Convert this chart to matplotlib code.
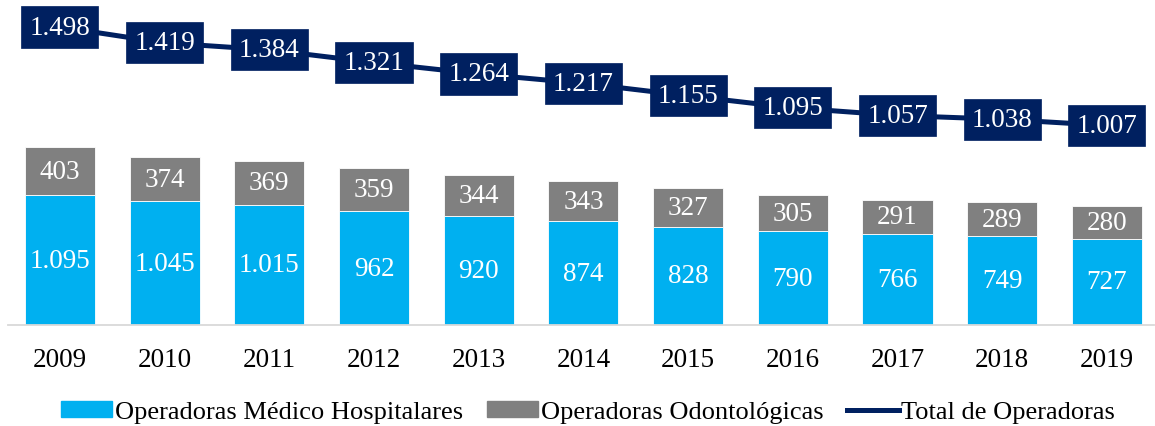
import matplotlib
matplotlib.use("Agg")
import matplotlib.pyplot as plt
from matplotlib.patches import Patch
from matplotlib.lines import Line2D
import numpy as np

years = ["2009", "2010", "2011", "2012", "2013", "2014", "2015", "2016", "2017", "2018", "2019"]
medico = [1095, 1045, 1015, 962, 920, 874, 828, 790, 766, 749, 727]
odonto = [403, 374, 369, 359, 344, 343, 327, 305, 291, 289, 280]
total = [1498, 1419, 1384, 1321, 1264, 1217, 1155, 1095, 1057, 1038, 1007]

def fmt(v):
    return f"{v:,}".replace(",", ".")

plt.rcParams['font.family'] = ['Liberation Serif', 'DejaVu Serif']
FS = 19.5

W, H = 1155, 427
fig = plt.figure(figsize=(W/100, H/100), dpi=100)
left_px, right_px = 7.6, 1154
top_px, base_px = 0, 326
ax = fig.add_axes([left_px/W, (H-base_px)/H, (right_px-left_px)/W, (base_px-top_px)/H])

blue = "#00B0F0"
gray = "#808080"
navy = "#002060"

x = np.arange(len(years))
bw = 0.67
ax.bar(x, medico, bw, color=blue, edgecolor="white", linewidth=0.6, zorder=2)
ax.bar(x, odonto, bw, bottom=medico, color=gray, edgecolor="white", linewidth=0.6, zorder=2)
for i in range(len(years)):
    ax.text(x[i], medico[i]/2, fmt(medico[i]), ha="center", va="center", color="white", fontsize=FS, zorder=3)
    ax.text(x[i], medico[i] + odonto[i]/2, fmt(odonto[i]), ha="center", va="center", color="white", fontsize=FS, zorder=3)

ax.set_xlim(-0.5, 10.45)
ax.set_ylim(0, 2751)
ax.set_yticks([])
ax.set_xticks(x)
ax.set_xticklabels(years, fontsize=FS)
ax.tick_params(axis="x", length=0, pad=16)
for s in ["top", "left", "right"]:
    ax.spines[s].set_visible(False)
ax.spines["bottom"].set_color("#D9D9D9")
ax.spines["bottom"].set_linewidth(1.3)
ax.patch.set_alpha(0)

ax2 = ax.twinx()
ax2.set_ylim(12.5, 1637.6)
ax2.plot(x, total, color=navy, linewidth=3.6, zorder=2)
for i in range(len(years)):
    ax2.text(x[i], total[i], fmt(total[i]), ha="center", va="center", color="white", fontsize=FS,
             bbox=dict(boxstyle="square,pad=0.3", facecolor=navy, edgecolor=navy, linewidth=0.5), zorder=3)
ax2.set_yticks([])
for s in ["top", "left", "right", "bottom"]:
    ax2.spines[s].set_visible(False)

handles = [Patch(facecolor=blue, edgecolor=blue),
           Patch(facecolor=gray, edgecolor=gray),
           Line2D([0], [0], color=navy, linewidth=3.6)]
labels = ["Operadoras Médico Hospitalares", "Operadoras Odontológicas", "Total de Operadoras"]
fig.legend(handles, labels, loc="center", bbox_to_anchor=(588/W, (H-413)/H), ncol=3, frameon=False,
           fontsize=19, handlelength=1.95, handleheight=0.6, handletextpad=0.1, columnspacing=0.9)

fig.savefig("out.png", dpi=100)
